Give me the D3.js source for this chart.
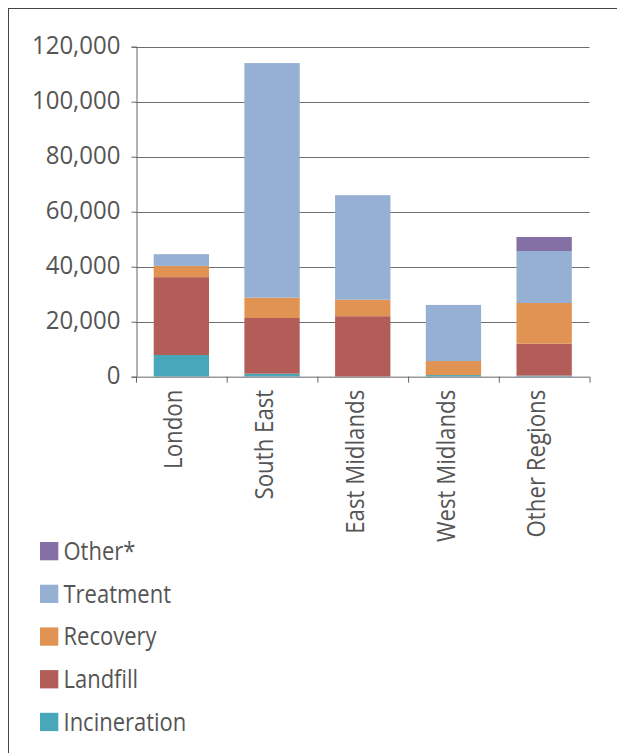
<!DOCTYPE html>
<html>
<head>
<meta charset="utf-8">
<script src="https://cdn.jsdelivr.net/npm/d3@7"></script>
<style>
  html, body { margin: 0; padding: 0; background: #fff; }
  svg { display: block; }
  text { font-family: "Open Sans", "Noto Sans", sans-serif; fill: #555; }
</style>
</head>
<body>
<svg id="chart" width="617" height="753"></svg>
<script>
// Waste tonnage by region and management route
const regions = ["London", "South East", "East Midlands", "West Midlands", "Other Regions"];
const routes = ["Incineration", "Landfill", "Recovery", "Treatment", "Other*"];
const incineration = [7900, 1100, 0, 600, 400];
const landfill     = [28300, 20250, 22000, 0, 11600];
const recovery     = [4100, 7400, 6000, 5100, 14800];
const treatment    = [4250, 85300, 38000, 20400, 18900];
const other        = [0, 0, 0, 0, 5100];
const yTicks = [0, 20000, 40000, 60000, 80000, 100000, 120000];
const colors = ["#48A7B9", "#B35D59", "#E09352", "#95B0D2", "#8470A4"];

const seriesValues = [incineration, landfill, recovery, treatment, other];
const rows = regions.map((r, i) => {
  const row = { region: r };
  routes.forEach((k, j) => { row[k] = seriesValues[j][i]; });
  return row;
});

const svg = d3.select("#chart");
const plot = { left: 136, right: 589.5, top: 46.7, bottom: 376.7 };
const fontSize = 25;
const squeeze = 0.89; // narrower set width for all labels

// Outer frame
svg.append("rect")
  .attr("x", 8.5).attr("y", 8.5)
  .attr("width", 640).attr("height", 800)
  .attr("fill", "none").attr("stroke", "#444").attr("stroke-width", 1);

const x = d3.scaleBand().domain(regions).range([plot.left, plot.right]).paddingInner(0.39).paddingOuter(0.195);
const y = d3.scaleLinear().domain([0, 120000]).range([plot.bottom, plot.top]);

// Gridlines
svg.append("g").selectAll("line").data(yTicks.filter(d => d > 0)).join("line")
  .attr("x1", plot.left).attr("x2", plot.right)
  .attr("y1", d => Math.round(y(d)) + 0.5).attr("y2", d => Math.round(y(d)) + 0.5)
  .attr("stroke", "#6f6f6f").attr("stroke-width", 1.2);

// Stacked bars
const stack = d3.stack().keys(routes)(rows);
svg.append("g").selectAll("g").data(stack).join("g")
  .attr("fill", (d, i) => colors[i])
  .selectAll("rect").data(d => d).join("rect")
  .attr("x", d => x(d.data.region))
  .attr("width", x.bandwidth())
  .attr("y", d => y(d[1]))
  .attr("height", d => y(d[0]) - y(d[1]));

// Y axis
const yAxis = svg.append("g")
  .attr("transform", `translate(${plot.left + 0.5},0)`)
  .call(d3.axisLeft(y).tickValues(yTicks).tickFormat(d3.format(",")).tickSize(5).tickPadding(11));
yAxis.select(".domain").attr("stroke", "#666");
yAxis.selectAll(".tick line").attr("stroke", "#666");
yAxis.selectAll("text")
  .attr("font-size", fontSize).attr("fill", "#555")
  .attr("font-family", "'Open Sans', sans-serif")
  .attr("dy", "0.28em")
  .attr("x", 0)
  .attr("transform", "translate(-16,0) scale(0.96,1)");

// X axis baseline with ticks at band boundaries
const boundaries = regions.map(r => x(r) - x.step() * x.paddingInner() / 2);
boundaries.push(plot.right);
svg.append("line")
  .attr("x1", plot.left).attr("x2", plot.right)
  .attr("y1", plot.bottom + 0.5).attr("y2", plot.bottom + 0.5)
  .attr("stroke", "#999").attr("stroke-width", 1.5);
svg.append("g").selectAll("line").data(boundaries).join("line")
  .attr("x1", d => d + 0.5).attr("x2", d => d + 0.5)
  .attr("y1", plot.bottom).attr("y2", plot.bottom + 6)
  .attr("stroke", "#666");

// Rotated category labels
svg.append("g").selectAll("text").data(regions).join("text")
  .attr("transform", d => `translate(${x(d) + x.bandwidth() / 2 - 7.7},${plot.bottom + 13}) rotate(-90) scale(${squeeze},1)`)
  .attr("text-anchor", "end")
  .attr("dy", "0.35em")
  .attr("font-size", fontSize)
  .text(d => d);

// Legend
const legendOrder = routes.map((k, i) => ({ key: k, color: colors[i] })).reverse();
const lg = svg.append("g").selectAll("g").data(legendOrder).join("g")
  .attr("transform", (d, i) => `translate(40,${551 + i * 42.7})`);
lg.append("rect").attr("x", 0).attr("y", -9).attr("width", 18.3).attr("height", 18.3).attr("fill", d => d.color);
lg.append("text")
  .attr("transform", "translate(23.5,0) scale(0.88,1)")
  .attr("dy", "0.36em").attr("font-size", fontSize).text(d => d.key);
</script>
</body>
</html>
